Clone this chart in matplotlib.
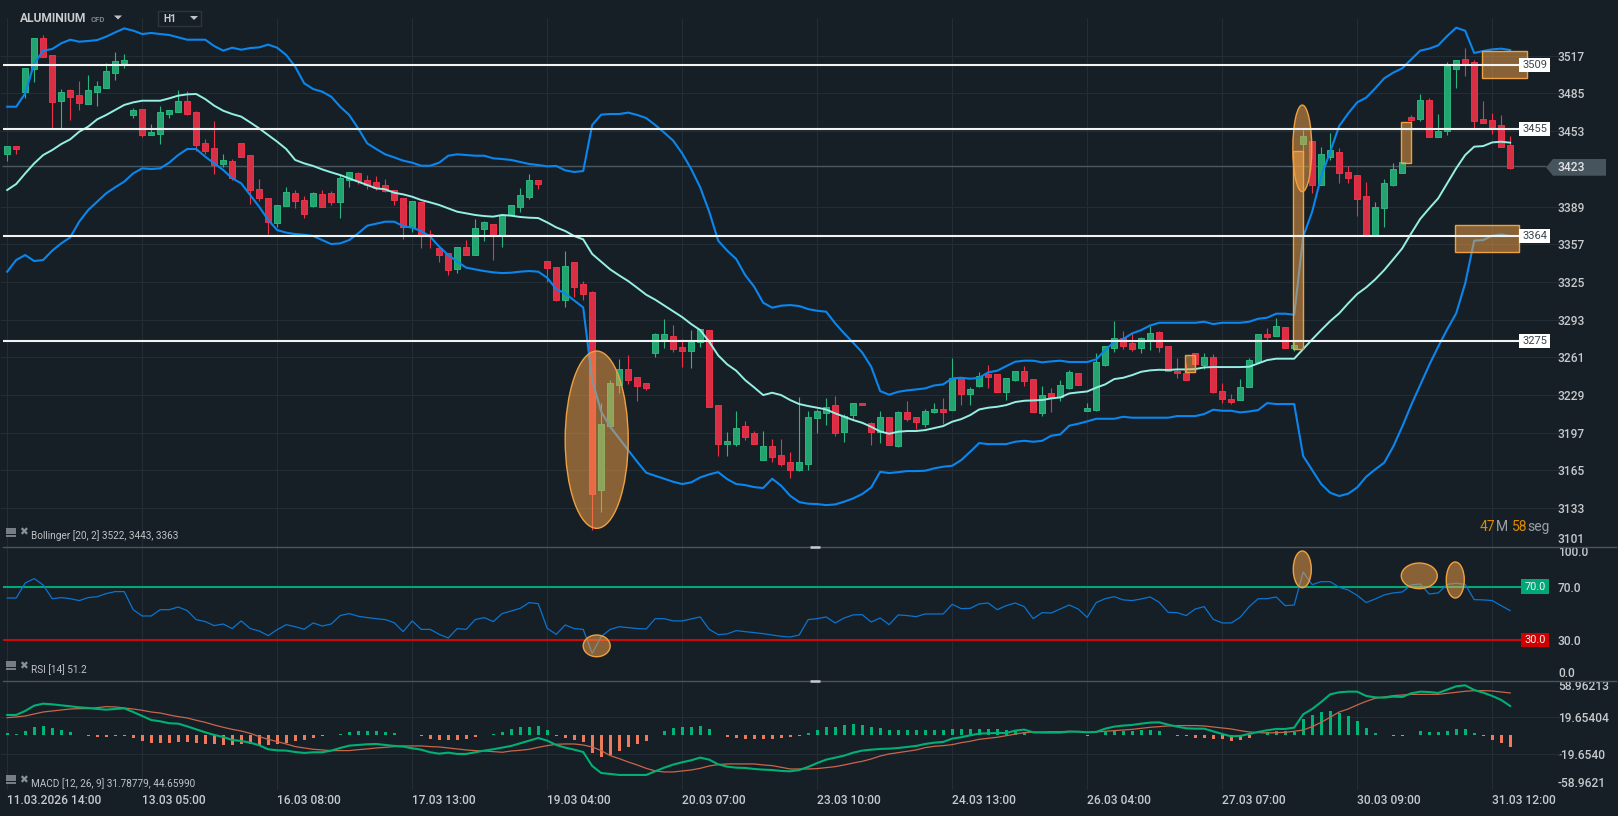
import matplotlib
matplotlib.use("Agg")
import matplotlib.pyplot as plt
from matplotlib.patches import Ellipse, Rectangle, Polygon

plt.rcParams['font.family'] = ['Roboto', 'DejaVu Sans']

# Bougies H1
opens = [3433.8,3440.3,3486.5,3506,3531.8,3517.3,3478.8,3487.6,3483.4,3476.3,
         3486.5,3489.9,3502.6,3510.8,3466.7,3471.5,3450,3450.8,3467.5,3469.5,
         3478.3,3468.9,3442.6,3438.4,3425.3,3427.3,3442.6,3432.4,3403.6,3395.9,
         3375.3,3389.7,3400.2,3394.2,3389.4,3399.3,3400.4,3393.1,3411.2,3417.1,
         3411.2,3409.5,3407,3402.7,3395.9,3371.3,3392.5,3365.3,3353.5,3349.2,
         3335.6,3354.3,3348.1,3370.2,3373.8,3364.5,3382,3388.8,3397.3,3411.2,
         3342.4,3337.3,3309.9,3341.5,3322.9,3316.1,3148.5,3202.9,3237.7,3250.7,
         3243.9,3238.8,3264.9,3276.7,3278.7,3269.4,3266.6,3274.2,3283.8,3220.1,
         3187.6,3187.6,3202.3,3196.4,3174,3185.3,3177.7,3171.7,3165.5,3170.6,
         3209.7,3213.9,3220.1,3197.8,3211.9,3221.8,3204.9,3197.8,3210,3185.9,
         3214.2,3210,3204.6,3214.8,3216.7,3215.9,3243.1,3230,3236.8,3246.5,
         3246.5,3231.7,3241.9,3249,3242.5,3213.9,3230.3,3226.9,3235.2,3247.3,
         3215.6,3216.5,3254.7,3269.1,3277,3272.8,3269.1,3275.6,3282.1,3270.8,
         3249.6,3247.9,3264.3,3254.7,3260.9,3232,3225.2,3224.4,3235.4,3257.2,
         3280.4,3279.3,3286.4,3269.1,3441.7,3444.3,3407.5,3431.3,3434.9,3418,
         3415.4,3397.6,3365,3388,3407.5,3417.7,3464.7,3463.5,3479.1,3448.3,
         3453.3,3506,3513.9,3511.4,3463,3462.1,3457.9,3440.9]
closes = [3440.3,3438.1,3506.3,3531.8,3516.2,3478,3485.9,3482.2,3477.1,3487.6,
          3491,3503.7,3512.2,3513,3470.6,3450,3452.2,3468.9,3470.6,3478.3,
          3467.8,3441.5,3436.4,3424.5,3428.2,3413.5,3431.3,3402.7,3396.5,3376.1,
          3390,3401,3393.9,3382.9,3400.2,3388.9,3393.1,3412.9,3418,3410.9,
          3407.2,3404.7,3402.4,3394.8,3371.3,3393.4,3364.2,3363.9,3348.1,3335.4,
          3354.3,3348.1,3370.4,3375.5,3365,3382,3390,3398.5,3411.2,3408.4,
          3337,3309.9,3338.2,3320.9,3314.9,3145.1,3204,3238.8,3250.7,3241.9,
          3236.8,3235.1,3280.4,3280.4,3268.3,3266.6,3274.2,3284.7,3219,3187.6,
          3189.9,3200.6,3193.5,3187.6,3185.3,3176.6,3170.6,3165.5,3171.7,3210,
          3215,3219,3196.9,3211.4,3221.8,3220.1,3197.8,3210,3186.7,3214.2,
          3208.8,3206.3,3215,3216.7,3214.8,3243.1,3230,3233.7,3245,3244.5,
          3231.7,3243.1,3249,3241.1,3214.2,3228.6,3226.4,3237.1,3248.2,3237.7,
          3217.9,3256.7,3270.2,3277,3270.8,3268.3,3277,3281.3,3269.9,3249,
          3247.3,3242,3255.5,3260.9,3231.5,3225.2,3223.3,3235.4,3258.4,3280.4,
          3278.4,3287.2,3269.1,3271.1,3448.5,3407.5,3433.2,3436.6,3417.7,3413.4,
          3395.1,3365,3388.3,3408.6,3420.5,3426.5,3462.7,3479.1,3448.3,3453.3,
          3508.5,3513,3508.8,3461.8,3460.1,3456.7,3439.8,3421.9]
highs = [3440.3,3440.3,3506.3,3531.8,3534.6,3517.3,3488.7,3488.7,3495.5,3500.6,
         3495.5,3510.5,3520.2,3518.5,3472.3,3471.5,3459,3474.3,3470.6,3487.9,
         3487,3470,3446.3,3461.6,3433.6,3429.3,3442.6,3432.4,3412.3,3395.9,
         3390,3405.5,3403,3397.9,3401.3,3403,3401.9,3415.7,3418,3418.3,
         3415.7,3414.9,3412,3402.7,3395.9,3393.4,3392.5,3369,3353.5,3349.2,
         3354.3,3360.5,3378.1,3376.9,3373.8,3382,3390,3404.4,3416.3,3411.2,
         3342.4,3337.3,3350.9,3341.5,3325.7,3317.2,3222.1,3241.6,3259.5,3262.9,
         3243.9,3238.8,3281.3,3293.4,3288.3,3276.5,3284,3284.7,3283.8,3220.1,
         3197.5,3215.3,3206.8,3198.4,3198.4,3191.3,3191.3,3180.5,3227.2,3215.3,
         3217,3226.4,3228,3212.8,3221.8,3221.8,3206.3,3215.3,3210,3215.3,
         3223.8,3210,3217,3222.1,3226.4,3260,3243.1,3236,3248.4,3254.4,
         3246.5,3243.1,3249.5,3253.5,3242.5,3236.6,3234.9,3241.7,3250.2,3247.3,
         3222.4,3264.9,3270.2,3291.7,3283.3,3281.3,3278.4,3287.5,3283.3,3270.8,
         3260.3,3255.8,3264.3,3264.3,3263.5,3238.8,3229.8,3242.2,3260,3280.4,
         3285.5,3294,3286.4,3275.6,3453.9,3444.3,3439.8,3451.1,3438.3,3423.3,
         3415.4,3409.5,3392.5,3412,3425.6,3426.5,3466.6,3484.5,3481.1,3467.5,
         3511.4,3513,3523.5,3513.3,3478.5,3468.3,3466.6,3448.8]
lows = [3427.9,3433.6,3481.4,3495,3516.2,3455.9,3456,3462.4,3470.9,3476.3,
        3474.3,3489.9,3496.4,3506.6,3464.4,3448.3,3450,3442.3,3464.1,3469.5,
        3467,3436.1,3433.8,3416.9,3422.2,3411.2,3431.3,3390.8,3394,3365.6,
        3371.9,3389.7,3388,3379.5,3388.6,3388.9,3390.5,3379.5,3405.8,3408.1,
        3404.1,3403,3401,3390.5,3361.7,3367.6,3354,3354,3341.9,3331.1,
        3332.8,3348.1,3348.1,3360,3343.8,3354.9,3382,3384.6,3395.6,3404.1,
        3325.1,3309,3303.9,3312.1,3309.9,3114.3,3129.9,3202.9,3230.9,3238.5,
        3223.8,3233.2,3261.5,3269.1,3265.7,3253,3252.1,3270,3219,3177.4,
        3177.4,3185.9,3191,3187.6,3174,3172,3168.9,3158.7,3164.7,3165.5,
        3197,3203.4,3194.4,3189.3,3208.8,3220.1,3186.7,3188.4,3186.7,3185,
        3207.1,3200,3202,3213.9,3204,3215.9,3220.7,3220.7,3236,3235.1,
        3231.7,3225,3241.1,3236.8,3214.2,3211.4,3214.5,3224.1,3234.3,3237.7,
        3215.6,3215.6,3253.8,3265.7,3268.3,3266.3,3264.3,3267.1,3265.4,3249,
        3243.4,3242,3249.6,3250.7,3230.9,3222.4,3221.6,3224.4,3235.4,3257.2,
        3275.6,3279.3,3269.1,3266,3436,3400.7,3407.5,3428.7,3409.2,3409.2,
        3380.9,3365,3365,3371.3,3406.6,3417.7,3460.7,3461.8,3448.3,3448.3,
        3449.7,3489.6,3500,3455,3459.6,3450.8,3439.8,3420.8]

# Bollinger [20, 2]
boll_up = [3473.7,3473.7,3485,3510.5,3521.3,3522.7,3527.5,3530.6,3528.9,3529.5,
           3530.3,3533.2,3536.8,3540.2,3538.3,3535.4,3536.3,3535.4,3534.6,3532.6,
           3530.6,3530.6,3530.6,3525.2,3521.3,3523.8,3522.1,3523.5,3524.1,3526.4,
           3523.8,3517.6,3507.7,3493.6,3488.7,3486.5,3482.2,3473.7,3466.7,3455.3,
           3442.6,3437.8,3433.3,3430.7,3427.9,3426.2,3423.6,3423.6,3426.2,3432.1,
           3433.3,3432.7,3432.1,3432.1,3429.9,3429.3,3428.5,3426.8,3425.1,3424.2,
           3423.1,3423.4,3419.7,3418.3,3419.1,3458.2,3467,3467.5,3467.5,3468.7,
           3466.7,3464.1,3458.2,3451.7,3444.9,3434.1,3420.8,3405.3,3384.6,3360,
           3351.5,3344.4,3330.8,3320.9,3307.3,3303.1,3304.8,3305.3,3304.5,3301.9,
           3300.5,3299.7,3289.8,3281.3,3273.3,3265.1,3253,3232.3,3229.2,3231.7,
           3232.9,3233.7,3234.6,3237.1,3238,3243.1,3243.6,3242.8,3243.6,3248.2,
           3249.6,3253.5,3257.2,3258.1,3258.1,3256.7,3257.5,3258.1,3257,3257,
           3257,3259.2,3267.1,3274.2,3276.5,3281.3,3284.1,3288,3290.3,3290.3,
           3290.3,3290.3,3290.3,3291.2,3289.2,3290.3,3290.3,3290.3,3291.2,3293.7,
           3294.6,3298,3298,3297.1,3363.4,3384.6,3414.3,3435.5,3457.3,3468,
           3477.4,3481.4,3489.3,3497.8,3502.6,3506.3,3513.9,3521.3,3523,3525.8,
           3533.7,3540.8,3538.2,3519.3,3521,3522.4,3523,3521.8]
boll_mid = [3403,3408.1,3417.1,3425.6,3432.7,3436.9,3442,3446,3452.5,3456.8,
            3463,3466.7,3470.9,3475.2,3477.4,3478.8,3478.8,3478.8,3480.8,3483.1,
            3484.2,3484.5,3480.2,3474.6,3470.3,3467.5,3465.3,3460.4,3455.3,3449.7,
            3444,3437.8,3428.5,3425.6,3423.4,3420.5,3418,3415.7,3412.9,3410.1,
            3407.2,3404.4,3403.6,3400.7,3399.3,3397.3,3394.5,3392.5,3390.3,3387.4,
            3384.6,3383.2,3381.8,3380.9,3380.4,3381.8,3381.2,3380.1,3379.5,3379.2,
            3375.5,3371.3,3368.2,3363.9,3361.1,3348.7,3342.2,3335.6,3330.5,3325.7,
            3320,3314.1,3309.9,3305,3300.2,3295.1,3289.2,3284.1,3274.2,3262.6,
            3255,3249.6,3241.6,3235.4,3228.9,3230.9,3228.9,3224.7,3221.3,3219.6,
            3218.2,3216.7,3213.4,3210.5,3207.7,3205.4,3202,3198,3196.1,3197.8,
            3198.4,3198.4,3199.2,3200.9,3202.6,3206.3,3208.5,3211.9,3216.7,3218.2,
            3219,3220.4,3223,3224.1,3224.4,3224.7,3226.1,3226.9,3230.3,3231.2,
            3232,3235.2,3238,3242.5,3243.6,3245.9,3248.7,3249.9,3250.4,3250.2,
            3250.7,3250.7,3251,3252.4,3252.7,3252.7,3252.7,3252.7,3253,3255.8,
            3258.6,3259.8,3259.8,3259.8,3268,3276.2,3284.1,3291.7,3298.3,3306.8,
            3314.7,3320.3,3327.1,3335,3344.1,3353.4,3366.2,3378.4,3387.4,3395.9,
            3408.6,3421.4,3432.7,3439.8,3440.3,3443.4,3444,3443.2]
boll_low = [3333.7,3343.6,3347.8,3342.7,3343.6,3351.5,3357.7,3362.8,3376.1,3386,
            3393.1,3400.2,3405.3,3410.1,3417.1,3421.4,3420.8,3421.4,3426.2,3432.7,
            3437.8,3437.8,3431.3,3425.6,3420,3412.9,3408.7,3398.7,3388.8,3377.5,
            3369,3366.8,3365.6,3365,3363.9,3360.5,3357.1,3357.7,3360.5,3366.2,
            3372.7,3374.4,3376.1,3376.1,3372.4,3371,3368.2,3363.4,3354.9,3347.8,
            3342.2,3337.1,3335.6,3334.2,3333.1,3332.5,3332.8,3333.7,3334.2,3333.7,
            3328.5,3318.9,3315.2,3309.3,3303.3,3241.6,3214.8,3202,3192.1,3182.2,
            3172.3,3163,3160.4,3157.9,3155.3,3153.4,3154.8,3159,3161.6,3163.5,
            3157.6,3153.4,3152.5,3150.8,3150,3157.9,3151.9,3143.4,3138.1,3136.7,
            3136.4,3135.5,3136.1,3138.4,3141.2,3144.9,3150.5,3163.8,3162.7,3163.5,
            3164.4,3164.4,3164.7,3166.7,3168.1,3168.9,3173.7,3180.8,3188.2,3187.3,
            3187.3,3187.3,3189.3,3190.1,3189.3,3190.1,3194.4,3195.5,3202.9,3204.6,
            3206.6,3208.8,3208.8,3208.8,3210.5,3209.7,3209.7,3209.7,3209.7,3209.7,
            3211.1,3211.1,3211.1,3212.8,3216.5,3215.6,3215.6,3214.2,3215,3216.2,
            3222.1,3221.3,3221.3,3221.3,3177.1,3165.3,3153.4,3146,3143.2,3145.2,
            3150.5,3159.6,3165.8,3171.5,3185.1,3202,3220.4,3237.4,3254.4,3270,
            3284.7,3298.3,3323.7,3360,3360.5,3364.2,3365.3,3363.9]

# RSI [14]
rsi = [61.4,61.4,72.6,75.9,71.1,60.9,61.7,60.9,59.5,61.7,
       62.4,64.7,66.2,66.2,52.7,48,48,52.7,52.7,54.7,
       52,45.3,43.8,40.8,42,38.6,44.3,38.6,36.8,33.3,
       37.8,41.5,40,38.1,42.8,40.5,42,48.3,49.8,47.8,
       46.8,46,45.3,43,36.3,44.3,38,38,34.3,31.6,
       38.6,38,45.3,46.8,43.8,49.8,51.7,53.7,58,57.2,
       38.8,34.3,41.3,38.6,38,20.1,32.6,38,40,39.3,
       38.6,38.3,46,46,44.3,44.3,45.8,47.3,38,34.1,
       34.6,37.1,36.3,35.6,34.8,33.8,32.8,32.3,33.8,45.3,
       46,47.3,42.8,46.5,48.8,49,43.5,46.5,41.5,48.8,
       48.3,47.5,49.5,49.5,49.5,56.7,53.5,53.7,57,57.7,
       52.7,55.7,57.7,55,46,50.5,50.2,53.2,56.2,53.2,
       47,58,60.9,62.4,60,59.5,60.7,62.2,58.2,50.7,
       50.5,48.3,53.2,55,45.5,42.8,42.8,47,55,60.9,
       60.9,62.2,55.7,56.2,80.8,71.4,73.6,73.6,69.4,67.4,
       63.4,58,60.7,63.7,65.2,65.9,71.1,71.9,64.4,65.2,
       71.6,72.4,71.6,60.2,60,59.5,55.7,52]

# MACD [12, 26, 9]
macd_line = [21.8,21.8,26.1,31.8,33.9,33.2,32.2,31.1,30,29.3,
             28.2,27.5,28.2,28.9,25,20.7,16.4,15,12.9,12.5,
             9.6,6.4,3.2,0.4,-1.8,-5,-6.1,-7.9,-10.7,-15,
             -16.1,-16.4,-17.9,-18.9,-18.2,-18.2,-16.4,-13.6,-11.1,-10.4,
             -9.6,-9.3,-10.4,-11.4,-12.1,-13.9,-15.4,-18.2,-19.7,-18.6,
             -20,-20,-18.2,-16.4,-15,-13.2,-11.4,-8.6,-5.7,-2.9,
             -5.7,-10.4,-13.2,-15.4,-17.9,-32.9,-40.4,-41.4,-42.5,-42.5,
             -42.5,-42.5,-38.6,-34.7,-31.4,-28.9,-26.8,-23.9,-26.1,-31.1,
             -33.6,-34.7,-35,-36.1,-36.8,-37.2,-38.2,-38.6,-37.2,-33.9,
             -29.7,-26.1,-23.9,-21.8,-18.6,-16.4,-15.4,-14.6,-14.3,-13.6,
             -12.5,-11.4,-9.3,-7.9,-7.1,-3.6,-2.1,0,1.8,2.1,
             2.5,2.5,5,6.1,3.2,2.9,2.9,2.9,3.9,3.9,
             3.2,3.6,7.1,9.3,10.4,11.1,12.5,13.6,13.9,11.4,
             9.3,7.5,7.1,7.1,4.3,1.4,-1.1,-0.7,1.4,3.6,
             5.4,6.8,6.8,8.2,22.5,28.2,35.7,43.9,46.1,46.8,
             46.8,42.2,40.7,40.4,41.4,41.1,45,46.8,46.4,45.4,
             48.9,52.5,53.6,48.6,45.7,42.2,37.9,31.4]
macd_signal = [18.9,19.7,20.7,22.9,25,26.1,27.2,28.2,28.6,28.6,
               29.7,30.7,30.4,29.3,28.2,26.8,25,23.9,21.8,20,
               18.6,16.1,13.9,11.1,8.6,6.4,4.6,2.1,-1.4,-4.3,
               -6.8,-9.3,-12.1,-13.6,-15,-15.7,-16.4,-16.4,-16.4,-15.4,
               -14.6,-13.6,-12.9,-12.1,-11.4,-11.4,-11.4,-12.1,-12.5,-13.6,
               -14.6,-15.7,-16.4,-16.8,-17.5,-18.2,-16.8,-16.1,-15,-12.9,
               -11.1,-9.6,-9.3,-9.3,-10.4,-12.5,-16.4,-21.8,-25,-28.6,
               -31.8,-35.4,-38.2,-39.3,-39.3,-38.2,-37.2,-35.4,-32.9,-31.4,
               -30.7,-30.7,-30.7,-30.7,-31.8,-32.5,-34.3,-36.1,-36.1,-36.1,
               -35.7,-34.7,-33.6,-31.8,-29.7,-27.9,-25.4,-22.2,-20,-18.6,
               -17.2,-15.7,-13.2,-11.8,-11.1,-10,-7.9,-6.4,-4.3,-3.2,
               -2.1,-0.4,1.4,2.9,3.2,3.6,3.9,3.9,4.3,3.9,
               3.2,3.6,4.3,5,5.7,6.4,7.5,8.6,9.3,10,
               10.4,10.4,10.4,10,8.9,7.9,6.8,5,3.6,2.9,
               2.5,2.9,3.2,4.3,5.7,9.3,13.9,19.3,25,28.2,
               32.5,36.4,39.7,41.1,42.5,43.2,43.9,43.9,43.9,43.9,
               45,46.1,47.2,47.9,47.9,47.5,46.4,45.4]
macd_hist = [2.9,1.8,5,8.6,9.6,7.5,5.4,3.2,0.7,-0.4,
             -1.4,-1.4,-1.1,-0.7,-2.5,-6.1,-7.9,-8.2,-8.2,-7.5,
             -7.5,-8.6,-8.9,-9.6,-10,-10.7,-8.9,-9.6,-10,-10.7,
             -9.6,-7.9,-5.7,-5.4,-2.9,-0.7,0,1.8,3.9,5,
             5,5,3.9,2.9,0.7,0.4,-0.4,-3.6,-4.6,-5.4,
             -5,-4.3,-2.1,0.4,1.8,3.9,6.4,8.6,9.3,10.4,
             5.4,-0.4,-3.2,-5,-7.1,-19.3,-23.2,-21.1,-16.8,-12.9,
             -9.6,-6.4,0,5,7.5,8.9,9.3,10.4,7.1,0.7,
             -1.8,-3.2,-4.3,-4.3,-4.3,-4.3,-3.2,-2.1,-0.7,2.9,
             6.1,9.3,9.3,10.7,11.8,11.4,9.3,8.2,5.4,5.4,
             5.4,5.4,5.4,5.4,5.4,7.1,7.1,7.1,7.1,7.1,
             6.4,5.4,5.4,3.9,0.7,0.2,0.2,0.2,0.4,0.4,
             -0.7,0.4,3.2,5,5,5,5.4,5.4,4.3,0.7,
             -0.4,-0.7,-3.2,-3.2,-3.6,-4.3,-6,-5.4,-2.9,0.4,
             3.2,4.6,5,3.9,17.2,21.4,25,26.1,24.3,20.4,
             15,7.5,2.1,0.1,-0.4,-0.4,0.4,4.3,3.2,3.2,
             5,6.4,6.4,2.1,-1.1,-5.4,-8.6,-12.9]

# Axes
price_ticks = [3517,3485,3453,3389,3357,3325,3293,3261,3229,3197,3165,3133,3101]
last_price = 3423
levels = [3509, 3455, 3364, 3275]
rsi_ticks = [100, 70, 30, 0]
macd_ticks = [58.96213, 19.65404, -19.6540, -58.9621]
macd_labels = ['58.96213', '19.65404', '-19.6540', '-58.9621']
date_pos = [0, 15, 30, 45, 60, 75, 90, 105, 120, 135, 150, 165]
date_labels = ['11.03.2026 14:00', '13.03 05:00', '16.03 08:00', '17.03 13:00',
               '19.03 04:00', '20.03 07:00', '23.03 10:00', '24.03 13:00',
               '26.03 04:00', '27.03 07:00', '30.03 09:00', '31.03 12:00']

# Surlignages orange: (bougie gauche, bougie droite, prix haut, prix bas)
rect_marks = [(142.9, 143.95, 3435.8, 3268.3), (130.9, 131.95, 3262.7, 3248.2),
              (154.9, 155.95, 3460.5, 3426.2), (163.9, 168.9, 3520.7, 3498.3),
              (160.9, 167.95, 3373, 3350.6)]
oval_marks = [(62, 69, 3266.3, 3115.8), (142.85, 144.95, 3475.1, 3401.6)]
rsi_ovals = [(64, 67, 33.8, 17.6), (142.9, 144.9, 96.5, 69.1),
             (154.9, 158.9, 87.5, 68.4), (159.9, 161.9, 88.3, 61.4)]

BG = '#161f26'
GRID = '#232d35'
SEP = '#4a545c'
TXT = '#c6cacd'
UP, UP_E = '#23a36f', '#2bb57e'
DOWN, DOWN_E = '#d92f45', '#ee3149'
ORANGE = (250/255, 165/255, 70/255, 0.5)
ORANGE_E = '#f0a040'
W, H = 1618, 816


def panel(top, bottom):
    # position en pixels de l'image
    ax = fig.add_axes([0, 1 - bottom / H, 1, (bottom - top) / H])
    ax.set_facecolor('none')
    for s in ax.spines.values():
        s.set_visible(False)
    ax.set_xlim(-0.8, 178.98)
    ax.yaxis.tick_right()
    ax.tick_params(axis='y', length=0, pad=-43.2, labelsize=8.64, labelcolor=TXT)
    ax.tick_params(axis='x', length=0)
    return ax


def marks(ax, rects, ovals, z=5):
    for l, r, t, b in rects:
        ax.add_patch(Rectangle((l, b), r - l, t - b, fc=ORANGE, ec=ORANGE_E, lw=1.0, zorder=z))
    for l, r, t, b in ovals:
        ax.add_patch(Ellipse(((l + r) / 2, (t + b) / 2), r - l, t - b, fc=ORANGE, ec=ORANGE_E, lw=1.0, zorder=z))


fig = plt.figure(figsize=(W / 100, H / 100), dpi=100, facecolor=BG)

idx = list(range(len(closes)))

# --- prix
ax = panel(0, 546)
ax.set_ylim(3100.8, 3564.3)
ax.set_xticks([])
ax.set_yticks(price_ticks)
ax.set_yticklabels([str(p) for p in price_ticks], fontweight='medium')
ax.get_yticklabels()[-1].set_va('bottom')
ax.hlines(price_ticks, -0.8, 172.5, color=GRID, lw=0.8, zorder=1)
ax.vlines(date_pos, 3100.8, 3549, color=GRID, lw=0.8, zorder=1)

ax.hlines(last_price, -0.6, 171.0, color='#4c5860', lw=1.0, zorder=2)

for i in idx:
    up = closes[i] >= opens[i]
    ax.vlines(i, lows[i], highs[i], color=UP_E if up else DOWN_E, lw=0.8, zorder=3)
    ax.bar(i, abs(closes[i] - opens[i]), bottom=min(opens[i], closes[i]), width=0.72,
           color=UP if up else DOWN, edgecolor=UP_E if up else DOWN_E, linewidth=0.7, zorder=3.2)

ax.plot(idx, boll_up, color='#0a86ee', lw=1.5, zorder=4)
ax.plot(idx, boll_low, color='#0a86ee', lw=1.5, zorder=4)
ax.plot(idx, boll_mid, color='#96efe4', lw=1.4, zorder=4)

marks(ax, rect_marks, oval_marks)

ax.hlines(levels, -0.5, 168.2, color='#f2f4f4', lw=1.5, zorder=6)
for lv in levels:
    ax.add_patch(Rectangle((168, lv - 6), 3.45, 12, fc='white', ec='none', zorder=7))
    ax.text(169.72, lv, str(lv), color='#3c444b', fontsize=8.0, ha='center', va='center', zorder=8)

# --- RSI
ax_rsi = panel(546.3, 680.3)
ax_rsi.set_ylim(0, 100)
ax_rsi.set_xticks(date_pos)
ax_rsi.set_xticklabels([])
ax_rsi.grid(axis='x', color=GRID, lw=0.8)
ax_rsi.set_axisbelow(True)
ax_rsi.set_yticks(rsi_ticks)
ax_rsi.set_yticklabels(['%.1f' % v for v in rsi_ticks], fontweight='medium')
ax_rsi.get_yticklabels()[0].set_va('top')
ax_rsi.get_yticklabels()[-1].set_va('bottom')
ax_rsi.hlines(70, -0.5, 168.2, color='#00a878', lw=1.5, zorder=2)
ax_rsi.hlines(30, -0.5, 168.2, color='#c80a0a', lw=1.5, zorder=2)
ax_rsi.plot(idx, rsi, color='#0a74d0', lw=0.9, zorder=3)
marks(ax_rsi, [], rsi_ovals)
for val, col in [(70, '#00a878'), (30, '#d00000')]:
    ax_rsi.add_patch(Rectangle((168.2, val - 5.5), 3.1, 11, fc=col, ec='none', zorder=6))
    ax_rsi.text(169.75, val, '%.1f' % val, color='#eef3f1', fontsize=7.8, ha='center', va='center', zorder=7)

# --- MACD
ax_m = panel(680.3, 790.3)
ax_m.set_ylim(-58.96213, 58.96213)
ax_m.set_xticks(date_pos)
ax_m.set_xticklabels(date_labels, fontsize=8.64, color=TXT, ha='left', fontweight='medium')
ax_m.tick_params(axis='x', pad=2.5)
ax_m.grid(axis='x', color=GRID, lw=0.8)
ax_m.set_axisbelow(True)
ax_m.set_yticks(macd_ticks)
ax_m.set_yticklabels(macd_labels, fontweight='medium')
ax_m.get_yticklabels()[0].set_va('top')
ax_m.get_yticklabels()[-1].set_va('bottom')
ax_m.hlines(macd_ticks[1:3], -0.8, 172.5, color=GRID, lw=0.8, zorder=1)
ax_m.hlines(-58.6, -0.8, 172.5, color=GRID, lw=0.8, zorder=1)
hist_cols = ['#00b477' if v >= 0 else '#ef7a5a' for v in macd_hist]
ax_m.bar(idx, macd_hist, width=0.36, color=hist_cols, zorder=2)
ax_m.plot(idx, macd_signal, color='#c8664a', lw=0.9, zorder=3)
ax_m.plot(idx, macd_line, color='#00b075', lw=1.5, zorder=4)

# --- habillage en pixels
ov = fig.add_axes([0, 0, 1, 1], facecolor='none')
ov.set_xlim(0, W)
ov.set_ylim(H, 0)
ov.axis('off')

for y in (546.5, 680.5):
    ov.plot([3, 1616], [y, y], color=SEP, lw=1.0)
    ov.plot([810, 820], [y + 0.5, y + 0.5], color='#c8cccf', lw=1.8, solid_capstyle='butt')

# etiquette du dernier prix
ov.add_patch(Polygon([(1546, 167.4), (1553, 159), (1606, 159), (1606, 175.7), (1553, 175.7)],
                     fc='#46545e', ec='none'))
ov.text(1558, 167.6, str(last_price), color='#e2e5e7', fontsize=8.64, ha='left', va='center',
        fontweight='medium')

# titre
ov.text(20, 18.7, 'ALUMINIUM', color='#c9cccf', fontsize=8.64, fontweight='bold', ha='left', va='center')
ov.text(90.5, 19.5, 'CFD', color='#7c858b', fontsize=5.6, fontweight='bold', ha='left', va='center')
ov.add_patch(Polygon([(114, 15.5), (122, 15.5), (118, 19.5)], fc='#c0c4c7', ec='none'))
ov.add_patch(Rectangle((158.5, 10.5), 43, 15, fc='none', ec='#2b353d', lw=1.0))
ov.text(163.5, 18.7, 'H1', color='#c9cccf', fontsize=7.4, fontweight='bold', ha='left', va='center')
ov.add_patch(Polygon([(190, 16), (198, 16), (194, 20)], fc='#c0c4c7', ec='none'))

# legendes des indicateurs
legends = [(535.7, 'Bollinger [20, 2] 3522, 3443, 3363'), (669.2, 'RSI [14] 51.2'),
           (783.3, 'MACD [12, 26, 9] 31.78779, 44.65990')]
for y, txt in legends:
    ov.text(31, y, txt, color='#c0c4c7', fontsize=7.2, ha='left', va='center')
    for dy in (-7, -5, -3, 0):
        ov.plot([6, 16], [y + dy, y + dy], color='#8a9196', lw=1.2, solid_capstyle='butt')
    ov.text(23, y - 3, '✖', color='#8a9196', fontsize=7.6, ha='center', va='center',
            family=['DejaVu Sans'])

# compte a rebours
for x, s, col in [(1480, '47', '#dd8a00'), (1496, 'M', '#9aa0a4'), (1512, '58', '#dd8a00'), (1527, 'seg', '#9aa0a4')]:
    ov.text(x, 526.7, s, color=col, fontsize=10, ha='left', va='center')

fig.savefig('out.png', dpi=100, facecolor=BG)
